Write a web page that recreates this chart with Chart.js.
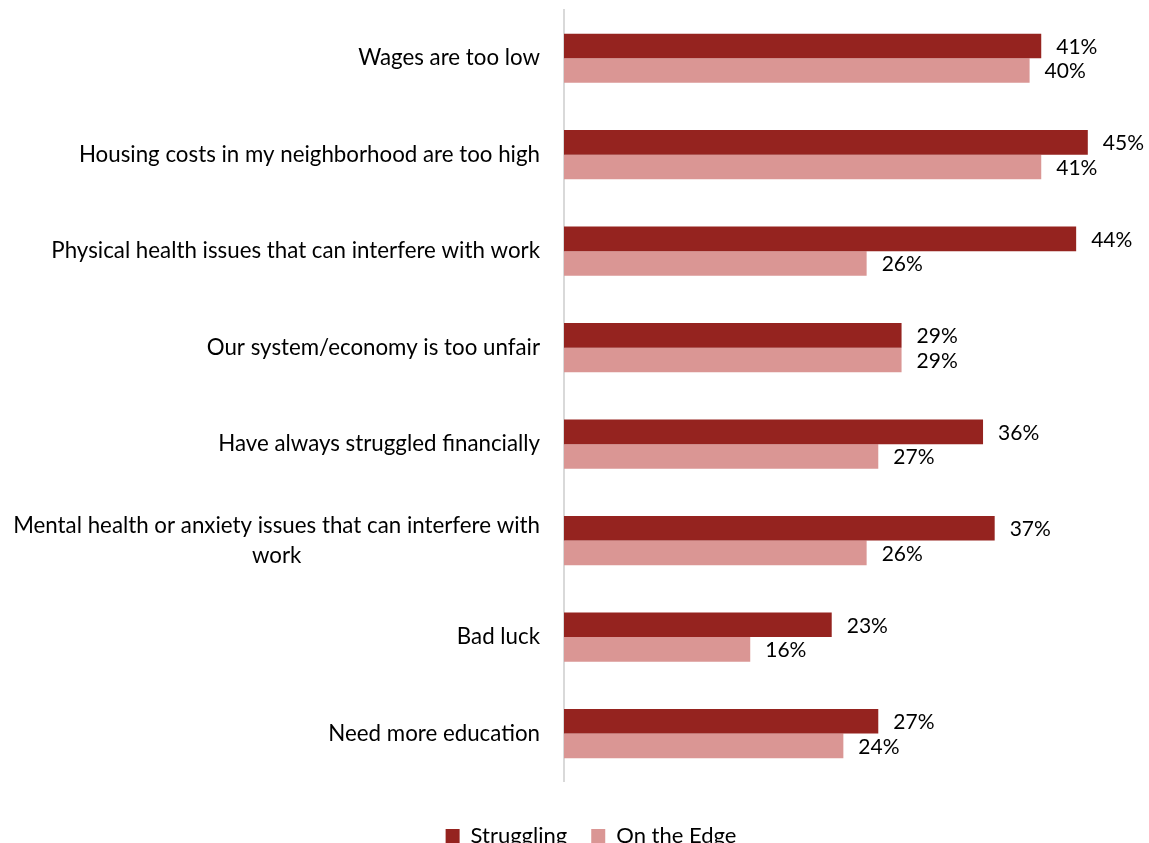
<!DOCTYPE html>
<html>
<head>
<meta charset="utf-8">
<script src="https://cdn.jsdelivr.net/npm/chart.js@4/dist/chart.umd.min.js"></script>
<style>
  html, body { margin: 0; padding: 0; background: #fff; overflow: hidden; }
  #wrap { width: 1149px; height: 857px; }
</style>
</head>
<body>
<div id="wrap"><canvas id="chart"></canvas></div>
<script>
const categories = [
  ['Wages are too low'],
  ['Housing costs in my neighborhood are too high'],
  ['Physical health issues that can interfere with work'],
  ['Our system/economy is too unfair'],
  ['Have always struggled financially'],
  ['Mental health or anxiety issues that can interfere with', 'work'],
  ['Bad luck'],
  ['Need more education']
];
const struggling = [41, 45, 44, 29, 36, 37, 23, 27];
const onTheEdge = [40, 41, 26, 29, 27, 26, 16, 24];

const FONT = 'Lato, "Open Sans", sans-serif';

// category labels, centred per line and right-aligned as a block
const categoryLabels = {
  id: 'categoryLabels',
  afterDraw(chart) {
    const ctx = chart.ctx;
    const y = chart.scales.y;
    ctx.save();
    ctx.font = '22.3px ' + FONT;
    ctx.fillStyle = '#000';
    ctx.textBaseline = 'middle';
    ctx.textAlign = 'center';
    const right = chart.chartArea.left - 24;
    const lh = 30;
    categories.forEach((lines, i) => {
      const cy = y.getPixelForTick(i);
      const w = Math.max(...lines.map(l => ctx.measureText(l).width));
      const cx = right - w / 2;
      const y0 = cy - (lines.length - 1) * lh / 2;
      lines.forEach((l, j) => ctx.fillText(l, cx, y0 + j * lh));
    });
    ctx.restore();
  }
};

// value labels after each bar
const valueLabels = {
  id: 'valueLabels',
  afterDatasetsDraw(chart) {
    const ctx = chart.ctx;
    ctx.save();
    ctx.font = '21px ' + FONT;
    ctx.fillStyle = '#000';
    ctx.textBaseline = 'middle';
    ctx.textAlign = 'left';
    chart.data.datasets.forEach((ds, di) => {
      chart.getDatasetMeta(di).data.forEach((bar, i) => {
        ctx.fillText(ds.data[i] + '%', bar.x + 15, bar.y + 1);
      });
    });
    ctx.restore();
  }
};

new Chart(document.getElementById('chart'), {
  type: 'bar',
  data: {
    labels: categories.map(c => c.join(' ')),
    datasets: [
      { label: 'Struggling', data: struggling, backgroundColor: '#95231F' },
      { label: 'On the Edge', data: onTheEdge, backgroundColor: '#DA9694' }
    ]
  },
  options: {
    indexAxis: 'y',
    responsive: true,
    maintainAspectRatio: false,
    animation: false,
    events: [],
    layout: { padding: { left: 36, top: 10, right: 3, bottom: 0 } },
    datasets: {
      bar: { categoryPercentage: 0.51, barPercentage: 1.0 }
    },
    scales: {
      x: {
        min: 0, max: 50,
        grid: { display: false, drawTicks: false },
        border: { display: false },
        ticks: { display: false },
        title: { display: true, text: ' ', font: { size: 1 }, padding: { top: 10, bottom: 8 } }
      },
      y: {
        grid: { display: false, drawTicks: false },
        border: { display: true, color: '#D9D9D9', width: 2 },
        ticks: { display: false },
        afterFit(scale) { scale.width = 528; }
      }
    },
    plugins: {
      legend: {
        position: 'bottom',
        labels: {
          font: { family: FONT, size: 22 },
          color: '#000',
          boxWidth: 14,
          boxHeight: 14,
          padding: 24
        }
      },
      tooltip: { enabled: false }
    }
  },
  plugins: [categoryLabels, valueLabels]
});
</script>
</body>
</html>
